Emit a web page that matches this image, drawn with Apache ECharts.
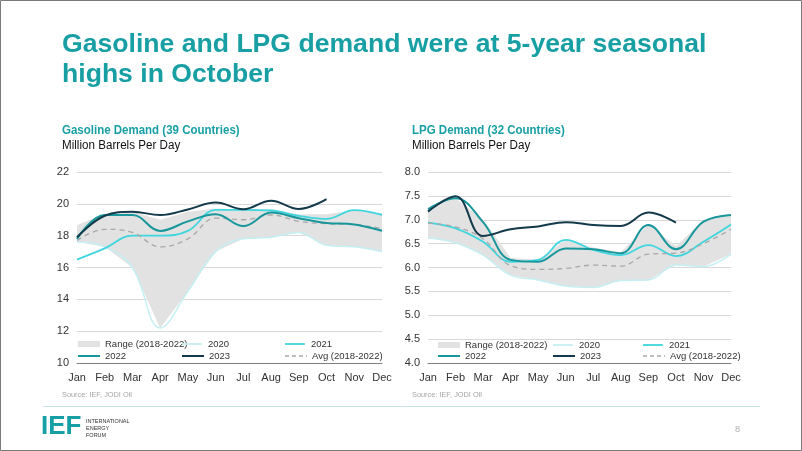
<!DOCTYPE html>
<html><head><meta charset="utf-8">
<script src="https://cdn.jsdelivr.net/npm/echarts@6/dist/echarts.min.js"></script>
<style>html,body{margin:0;padding:0;background:#fff;}#c{width:802px;height:451px;}</style>
</head><body><div id="c"></div>
<script>
const months = ['Jan','Feb','Mar','Apr','May','Jun','Jul','Aug','Sep','Oct','Nov','Dec'];
// Gasoline (million b/d)
const gasRangeLow  = [17.6, 17.3, 16.0, 12.2, 14.5, 17.0, 17.8, 17.9, 18.2, 17.4, 17.3, 17.0];
const gasRangeHigh = [18.65, 19.4, 19.5, 19.0, 19.5, 19.7, 19.65, 19.65, 19.35, 19.35, 19.6, 19.4];
const gas2020 = [17.6, 17.3, 16.0, 12.2, 14.5, 17.0, 17.8, 17.9, 18.2, 17.4, 17.3, 17.0];
const gas2021 = [16.5, 17.2, 18.0, 18.0, 18.3, 19.62, 19.62, 19.58, 19.25, 19.05, 19.6, 19.3];
const gas2022 = [17.8, 19.3, 19.3, 18.3, 18.9, 19.35, 18.6, 19.45, 19.1, 18.8, 18.7, 18.3];
const gas2023 = [17.9, 19.25, 19.5, 19.3, 19.65, 20.08, 19.66, 20.2, 19.68, 20.3];
const gasAvg  = [17.7, 18.4, 18.2, 17.3, 17.8, 19.1, 19.0, 19.3, 18.9, 18.75, 18.7, 18.45];
// LPG (million b/d)
const lpgRangeLow  = [6.62, 6.52, 6.26, 5.84, 5.74, 5.61, 5.58, 5.73, 5.74, 6.05, 6.02, 6.28];
const lpgRangeHigh = [7.25, 7.45, 7.0, 6.2, 6.16, 6.58, 6.42, 6.32, 6.9, 6.45, 6.98, 7.1];
const lpg2020 = [6.62, 6.52, 6.26, 5.84, 5.74, 5.61, 5.58, 5.73, 5.74, 6.05, 6.02, 6.28];
const lpg2021 = [6.94, 6.82, 6.54, 6.12, 6.16, 6.58, 6.37, 6.26, 6.47, 6.24, 6.54, 6.9];
const lpg2022 = [7.22, 7.45, 6.95, 6.16, 6.12, 6.4, 6.38, 6.3, 6.89, 6.38, 6.96, 7.1];
const lpg2023 = [7.17, 7.49, 6.66, 6.8, 6.86, 6.95, 6.89, 6.87, 7.15, 6.94];
const lpgAvg  = [6.93, 6.85, 6.6, 6.04, 5.96, 5.98, 6.05, 6.03, 6.28, 6.3, 6.5, 6.8];

const gasTicks = {min: 10, max: 22, interval: 2};
const lpgTicks = {min: 4, max: 8, interval: 0.5};

const TEAL = '#179fa4';
const C = {range:'#e2e2e2', y2020:'#c4eff3', y2021:'#3fd6de', y2022:'#17969b', y2023:'#123a4b', avg:'#a8a8a8'};
const FONT = '"Liberation Sans", Arial, sans-serif';

function seriesFor(idx, low, high, s20, s21, s22, s23, avg, tag) {
  const diff = high.map((h, i) => +(h - low[i]).toFixed(3));
  const base = {type:'line', xAxisIndex: idx, yAxisIndex: idx, symbol:'none', showSymbol:false};
  return [
    Object.assign({}, base, {name:'base'+tag, stack:'r'+tag, data: low, lineStyle:{opacity:0}, silent:true, z:1}),
    Object.assign({}, base, {name:'Range (2018-2022)', stack:'r'+tag, data: diff, lineStyle:{opacity:0, width:0}, itemStyle:{color:C.range}, areaStyle:{color:C.range, opacity:1}, z:1}),
    Object.assign({}, base, {name:'2020', data:s20, smooth:0.4, lineStyle:{color:C.y2020, width:1.5}, itemStyle:{color:C.y2020}, z:2}),
    Object.assign({}, base, {name:'2021', data:s21, smooth:0.4, lineStyle:{color:C.y2021, width:1.8}, itemStyle:{color:C.y2021}, z:3}),
    Object.assign({}, base, {name:'Avg (2018-2022)', data:avg, smooth:0.4, lineStyle:{color:C.avg, width:1.3, type:[5,4]}, itemStyle:{color:C.avg}, z:3}),
    Object.assign({}, base, {name:'2022', data:s22, smooth:0.4, lineStyle:{color:C.y2022, width:2}, itemStyle:{color:C.y2022}, z:4}),
    Object.assign({}, base, {name:'2023', data:s23, smooth:0.4, lineStyle:{color:C.y2023, width:2}, itemStyle:{color:C.y2023}, z:5}),
  ];
}

const ICON_SOLID = 'path://M0,0H22V2H0Z';
const ICON_DASH = 'path://M0,0H4V1.4H0Z M7,0H11V1.4H7Z M14,0H18V1.4H14Z M21,0H22V1.4H21Z';
function leg(name, textX, cy) {
  let icon = ICON_SOLID, h = 2.2;
  if (name === 'Range (2018-2022)') { icon = 'rect'; h = 6; }
  else if (name.startsWith('Avg')) { icon = ICON_DASH; h = 1.4; }
  else if (name === '2020' || name === '2021') { h = 1.8; }
  return {
    data:[{name, icon}],
    left: textX - 5 - 22, top: cy - 7,
    itemWidth: 22, itemHeight: h,
    padding: 0, selectedMode:false,
    itemStyle:{borderWidth:0},
    textStyle:{fontFamily:FONT, fontSize:9.5, color:'#333', lineHeight:14, height:14}
  };
}

const axisLabelStyle = {fontFamily:FONT, fontSize:11, color:'#333'};
function xAx(idx){ return {type:'category', gridIndex:idx, data:months, boundaryGap:false,
  axisLine:{lineStyle:{color:'#808080', width:1}}, axisTick:{show:false}, axisLabel:Object.assign({margin:9}, axisLabelStyle)}; }
function yAx(idx, t, dec){ return Object.assign({type:'value', gridIndex:idx,
  axisLine:{show:false}, axisTick:{show:false}, splitLine:{lineStyle:{color:'#d9d9d9', width:1}},
  axisLabel:Object.assign({margin:8, formatter: v => dec ? v.toFixed(1) : String(v)}, axisLabelStyle)}, t); }

function txt(x, y, text, font, fill, extra) {
  return Object.assign({type:'text', x, y, style:{text, font, fill, textVerticalAlign:'top'}}, extra||{});
}

const option = {
  animation:false,
  grid:[{left:77, right:420, top:172, bottom:88}, {left:428, right:71, top:172, bottom:88}],
  xAxis:[xAx(0), xAx(1)],
  yAxis:[yAx(0, gasTicks, false), yAx(1, lpgTicks, true)],
  legend:[
    leg('Range (2018-2022)', 105, 344), leg('2020', 209, 344), leg('2021', 312, 344),
    leg('2022', 105, 356), leg('2023', 209, 356), leg('Avg (2018-2022)', 312, 356),
    leg('Range (2018-2022)', 465, 345), leg('2020', 580, 345), leg('2021', 670, 345),
    leg('2022', 465, 356), leg('2023', 580, 356), leg('Avg (2018-2022)', 670, 356)
  ],
  series: seriesFor(0, gasRangeLow, gasRangeHigh, gas2020, gas2021, gas2022, gas2023, gasAvg, 'g')
    .concat(seriesFor(1, lpgRangeLow, lpgRangeHigh, lpg2020, lpg2021, lpg2022, lpg2023, lpgAvg, 'l')),
  graphic:[
    {type:'rect', shape:{x:0.5, y:0.5, width:801, height:450}, style:{fill:'none', stroke:'#7a7a7a', lineWidth:1}, z:100},
    txt(62, 31, 'Gasoline and LPG demand were at 5-year seasonal', 'bold 26.6px '+FONT, TEAL),
    txt(62, 61, 'highs in October', 'bold 26.6px '+FONT, TEAL),
    txt(62, 124, 'Gasoline Demand (39 Countries)', 'bold 12.5px '+FONT, TEAL, {scaleX:0.92}),
    txt(62, 139, 'Million Barrels Per Day', '12.5px '+FONT, '#111', {scaleX:0.93}),
    txt(412, 124, 'LPG Demand (32 Countries)', 'bold 12.5px '+FONT, TEAL, {scaleX:0.92}),
    txt(412, 139, 'Million Barrels Per Day', '12.5px '+FONT, '#111', {scaleX:0.93}),
    txt(62, 391, 'Source: IEF, JODI Oil', '8px '+FONT, '#a6a6a6', {scaleX:0.92}),
    txt(412, 391, 'Source: IEF, JODI Oil', '8px '+FONT, '#a6a6a6', {scaleX:0.92}),
    {type:'line', shape:{x1:43, y1:406.5, x2:760, y2:406.5}, style:{stroke:'#c5e4ea', lineWidth:1}},
    txt(41, 414, 'IEF', 'bold 26px '+FONT, TEAL),
    txt(86, 418, 'INTERNATIONAL', '5.5px '+FONT, '#333'),
    txt(86, 425, 'ENERGY', '5.5px '+FONT, '#333'),
    txt(86, 432, 'FORUM', '5.5px '+FONT, '#333'),
    txt(735, 425, '8', '9px '+FONT, '#b0b0b0')
  ]
};
const chart = echarts.init(document.getElementById('c'), null, {renderer:'canvas'});
chart.setOption(option);
</script></body></html>
